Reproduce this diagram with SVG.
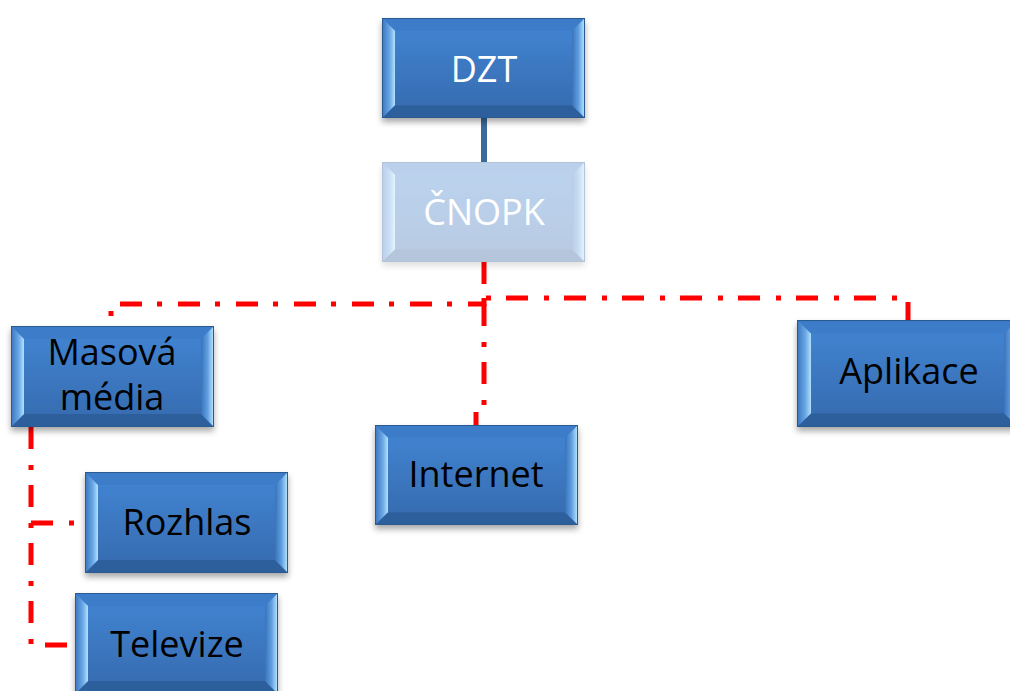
<svg xmlns="http://www.w3.org/2000/svg" xmlns:xlink="http://www.w3.org/1999/xlink" width="1010" height="691" viewBox="0 0 1010 691">
  <style>
    .lbl { font-family: "Open Sans", "Liberation Sans", sans-serif; font-size: 36px; text-anchor: middle; fill: #000; }
    .lbl-w { fill: #fff; }
    .dash { fill: none; stroke: #ff0000; stroke-width: 5; stroke-dasharray: 22 16 5 15; }
    .solid { fill: none; stroke: #3c6a9c; stroke-width: 6; }
  </style>
  <defs>
    <linearGradient id="face" x1="0" y1="0" x2="0" y2="1">
      <stop offset="0" stop-color="#4282d0"/>
      <stop offset="1" stop-color="#3668ab"/>
    </linearGradient>
    <linearGradient id="inner" x1="0" y1="0" x2="0" y2="1">
      <stop offset="0" stop-color="#4182cf"/>
      <stop offset="1" stop-color="#376db2"/>
    </linearGradient>
    <linearGradient id="bevL" x1="0" y1="0" x2="1" y2="0">
      <stop offset="0" stop-color="#3a74bd"/>
      <stop offset="0.6" stop-color="#6aa8e6"/>
      <stop offset="1" stop-color="#b2e2fc"/>
    </linearGradient>
    <linearGradient id="bevR" x1="0" y1="0" x2="1" y2="0">
      <stop offset="0" stop-color="#3a72ba"/>
      <stop offset="0.5" stop-color="#5f9fe0"/>
      <stop offset="1" stop-color="#bfeaff"/>
    </linearGradient>
    <filter id="shadow" x="-10%" y="-10%" width="120%" height="130%">
      <feDropShadow dx="0" dy="4" stdDeviation="3" flood-color="#000" flood-opacity="0.35"/>
    </filter>
    <!-- bevelled button shape, 203 x 101 -->
    <symbol id="bevel" viewBox="0 0 203 101" preserveAspectRatio="none">
      <rect x="0" y="0" width="203" height="101" fill="url(#face)"/>
      <polygon points="0,0 203,0 190,13 13,13" fill="#3d7cc8"/>
      <polygon points="0,101 13,88 190,88 203,101" fill="#2e5e9d"/>
      <polygon points="0,0 13,13 13,88 0,101" fill="url(#bevL)"/>
      <polygon points="203,0 190,13 190,88 203,101" fill="url(#bevR)"/>
      <rect x="13" y="13" width="177" height="75" fill="url(#inner)"/>
      <rect x="0.5" y="0.5" width="202" height="100" fill="none" stroke="#2b5a92" stroke-width="1"/>
    </symbol>
  </defs>

  <rect width="1010" height="691" fill="#fff"/>

  <!-- connectors -->
  <g id="connectors">
    <line class="solid" x1="484" y1="118" x2="484" y2="162"/>
    <path class="dash" d="M484,262 V298 H908 V320"/>
    <path class="dash" d="M484,298 V304 H111 V326"/>
    <path class="dash" d="M484,304 V408 H476 V425"/>
    <path class="dash" d="M31,427 V645 H75"/>
    <path class="dash" d="M31,523 H85"/>
  </g>

  <!-- nodes -->
  <g id="node-dzt">
    <use href="#bevel" x="382" y="18" width="203" height="100" filter="url(#shadow)"/>
    <text class="lbl lbl-w" x="484" y="82">DZT</text>
  </g>

  <g id="node-cnopk">
    <use href="#bevel" x="382" y="162" width="203" height="100" filter="url(#shadow)" opacity="0.35"/>
    <text class="lbl lbl-w" x="484" y="225">ČNOPK</text>
  </g>

  <g id="node-masova-media">
    <use href="#bevel" x="11" y="326" width="203" height="101" filter="url(#shadow)"/>
    <text class="lbl" x="112" y="365">Masová</text>
    <text class="lbl" x="112" y="410">média</text>
  </g>

  <g id="node-internet">
    <use href="#bevel" x="375" y="425" width="203" height="100" filter="url(#shadow)"/>
    <text class="lbl" x="476" y="487">Internet</text>
  </g>

  <g id="node-aplikace">
    <use href="#bevel" x="797" y="320" width="221" height="107" filter="url(#shadow)"/>
    <text class="lbl" x="909" y="384">Aplikace</text>
  </g>

  <g id="node-rozhlas">
    <use href="#bevel" x="85" y="472" width="203" height="101" filter="url(#shadow)"/>
    <text class="lbl" x="187" y="535">Rozhlas</text>
  </g>

  <g id="node-televize">
    <use href="#bevel" x="75" y="593" width="203" height="101" filter="url(#shadow)"/>
    <text class="lbl" x="177" y="657">Televize</text>
  </g>
</svg>
